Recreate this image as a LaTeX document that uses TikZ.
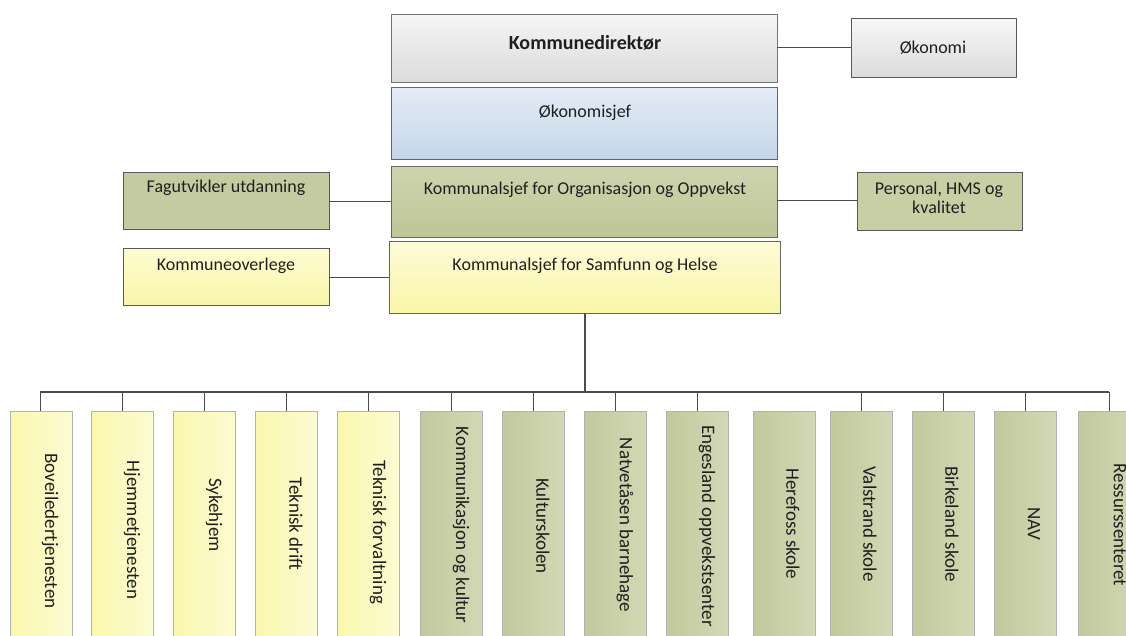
\documentclass[tikz,border=0pt]{standalone}
\usepackage{fontspec}
\setmainfont{Carlito}
\begin{document}
\begin{tikzpicture}[x=1pt,y=-1pt,
  box/.style={draw=black!60,line width=1pt,anchor=north west,inner sep=0pt,outer sep=0pt},
  sidebox/.style={box,draw=black!65,line width=0.9pt},
  lowbox/.style={draw=black!30,line width=0.8pt,anchor=north west,inner sep=0pt,outer sep=0pt,minimum width=62pt,minimum height=240pt},
  ybox/.style={lowbox,left color=yb1,right color=yb2},
  gbox/.style={lowbox,left color=gb1,right color=gb2},
  lbl/.style={font=\fontsize{18}{19.5}\selectfont,text=black!88,inner sep=0pt,align=center},
  vlbl/.style={lbl,font=\fontsize{19}{20}\selectfont,rotate=-90},
  conn/.style={draw=black!70,line width=0.9pt},
]
\definecolor{yb1}{HTML}{FAF8AE}
\definecolor{yb2}{HTML}{FCFBD2}
\definecolor{gb1}{HTML}{C2C99C}
\definecolor{gb2}{HTML}{D2D8B4}
\useasboundingbox (0,0) rectangle (1126,635);
\fill[white] (0,0) rectangle (1126,635);

% main stack
\node[box,minimum width=386pt,minimum height=68pt,top color=black!4,bottom color=black!14,draw=black!55] (dir) at (391,14) {};
\node[lbl,font=\bfseries\fontsize{20}{22}\selectfont] (tdir) at (585,43) {Kommunedirektør};
\node[box,minimum width=386pt,minimum height=72pt,top color={rgb,255:red,228;green,236;blue,246},bottom color={rgb,255:red,196;green,214;blue,232}] (oks) at (391,87) {};
\node[lbl] (toks) at (585,113) {Økonomisjef};
\node[box,minimum width=386pt,minimum height=71pt,top color={rgb,255:red,206;green,212;blue,174},bottom color={rgb,255:red,190;green,198;blue,152}] (org) at (391,166) {};
\node[lbl] (torg) at (585,190) {Kommunalsjef for Organisasjon og Oppvekst};
\node[box,minimum width=391pt,minimum height=72pt,top color={rgb,255:red,253;green,251;blue,216},bottom color={rgb,255:red,250;green,246;blue,168}] (sam) at (389,241) {};
\node[lbl] (tsam) at (585,266) {Kommunalsjef for Samfunn og Helse};

% side boxes
\node[sidebox,minimum width=165pt,minimum height=59pt,top color=black!3,bottom color=black!14] (oko) at (851,18) {};
\node[lbl] (toko) at (933,48) {Økonomi};
\node[sidebox,minimum width=165pt,minimum height=58pt,fill={rgb,255:red,201;green,207;blue,164}] (per) at (857,172) {};
\node[lbl] (tper) at (939,198) {Personal, HMS og\\kvalitet};
\node[sidebox,minimum width=206pt,minimum height=57pt,fill={rgb,255:red,196;green,203;blue,160}] (fag) at (123,172) {};
\node[lbl] (tfag) at (226,188) {Fagutvikler utdanning};
\node[sidebox,minimum width=206pt,minimum height=57pt,top color={rgb,255:red,253;green,252;blue,210},bottom color={rgb,255:red,249;green,246;blue,170}] (ove) at (123,248) {};
\node[lbl] (tove) at (226,266) {Kommuneoverlege};

\draw[conn] (dir.east |- 0,47) -- (oko.west |- 0,47);
\draw[conn] (org.east |- 0,200) -- (per.west |- 0,200);
\draw[conn] (fag.east |- 0,201) -- (org.west |- 0,201);
\draw[conn] (ove.east |- 0,277) -- (sam.west |- 0,277);

% bus
\coordinate (busL) at (40,392);
\coordinate (busR) at (1109,392);
\draw[conn,line width=1.8pt] (sam.south -| 585,0) -- (585,392);
\draw[conn,line width=1.3pt] (busL) -- (busR);

% bottom boxes
\node[ybox] (b1) at (10,411) {};
\node[ybox] (b2) at (91,411) {};
\node[ybox] (b3) at (173,411) {};
\node[ybox] (b4) at (255,411) {};
\node[ybox] (b5) at (337,411) {};
\node[gbox] (b6) at (420,411) {};
\node[gbox] (b7) at (502,411) {};
\node[gbox] (b8) at (584,411) {};
\node[gbox] (b9) at (666,411) {};
\node[gbox] (b10) at (753,411) {};
\node[gbox] (b11) at (830,411) {};
\node[gbox] (b12) at (912,411) {};
\node[gbox] (b13) at (994,411) {};
\node[gbox] (b14) at (1078,411) {};

\foreach \b/\x in {b1/40,b2/122,b3/204,b4/286,b5/368,b6/451,b7/533,b8/615,b9/697,b11/861,b12/943,b13/1025,b14/1109}
  \draw[conn] (\x,392) -- (\b.north -| \x,0);

\node[vlbl] (t1) at (50,531) {Boveiledertjenesten};
\node[vlbl] (t2) at (132,530) {Hjemmetjenesten};
\node[vlbl] (t3) at (214,515) {Sykehjem};
\node[vlbl] (t4) at (296,524) {Teknisk drift};
\node[vlbl] (t5) at (378,532) {Teknisk forvaltning};
\node[vlbl] (t6) at (461,525) {Kommunikasjon og kultur};
\node[vlbl] (t7) at (543,526) {Kulturskolen};
\node[vlbl] (t8) at (625,525) {Natvetåsen barnehage};
\node[vlbl] (t9) at (707,526) {Engesland oppvekstsenter};
\node[vlbl] (t10) at (793,524) {Herefoss skole};
\node[vlbl] (t11) at (870,524) {Valstrand skole};
\node[vlbl] (t12) at (952,524) {Birkeland skole};
\node[vlbl] (t13) at (1034,524) {NAV};
\node[vlbl] (t14) at (1120,525) {Ressurssenteret};
\end{tikzpicture}
\end{document}
